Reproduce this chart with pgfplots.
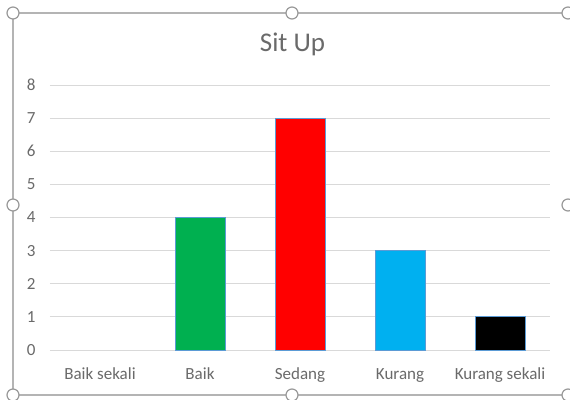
\documentclass[border=0pt]{standalone}
\usepackage{pgfplots}
\pgfplotsset{compat=1.18}
\usepackage{fontspec}
\setmainfont{Carlito}
\definecolor{txt}{HTML}{6A6A6A}
\definecolor{grd}{HTML}{D9D9D9}
\definecolor{frm}{HTML}{B4B4B4}
\definecolor{edge}{HTML}{5B9BD5}
\definecolor{cgreen}{HTML}{00B050}
\definecolor{cred}{HTML}{FF0000}
\definecolor{cblue}{HTML}{00B0F0}
\begin{document}
\begin{tikzpicture}[x=1pt,y=1pt]
\path[use as bounding box] (0,0) rectangle (570,399);
\fill[white] (0,0) rectangle (570,399);
% selection frame
\draw[frm, line width=2.2pt] (13,4) -- (13,386) -- (568,386);
\draw[frm, line width=2.2pt] (13,4) -- (568,4);
\foreach \p in {(13,386),(292,386),(568,386),(13,194),(568,194),(13,4),(292,4),(568,4)}
  \filldraw[draw=gray!80, fill=white, line width=1.2pt] \p circle (6);
\begin{axis}[
  at={(50pt,49pt)}, anchor=south west,
  scale only axis, width=500pt, height=265pt,
  xmin=-0.5, xmax=4.5, ymin=0, ymax=8,
  ytick={0,...,8},
  xtick={0,1,2,3,4},
  xticklabels={Baik sekali,Baik,Sedang,Kurang,Kurang sekali},
  axis line style={draw=none},
  major tick length=0pt,
  ymajorgrids, grid style={grd, line width=1pt},
  tick label style={font=\fontsize{17}{20}\selectfont, text=txt},
  /pgf/number format/assume math mode=true,
  yticklabel style={xshift=-11pt},
  xticklabel style={anchor=base, yshift=-29pt},
  bar width=50pt,
  title={Sit Up},
  title style={font=\fontsize{27}{32}\selectfont, text=txt, at={(0.485,1)}, anchor=base, yshift=28pt},
  clip=false,
]
\addplot[ybar, bar shift=0pt, fill=cgreen, draw=edge, line width=0.8pt] coordinates {(1,4)};
\addplot[ybar, bar shift=0pt, fill=cred, draw=edge, line width=0.8pt] coordinates {(2,7)};
\addplot[ybar, bar shift=0pt, fill=cblue, draw=edge, line width=0.8pt] coordinates {(3,3)};
\addplot[ybar, bar shift=0pt, fill=black, draw=edge, line width=0.8pt] coordinates {(4,1)};
\end{axis}
\end{tikzpicture}
\end{document}
